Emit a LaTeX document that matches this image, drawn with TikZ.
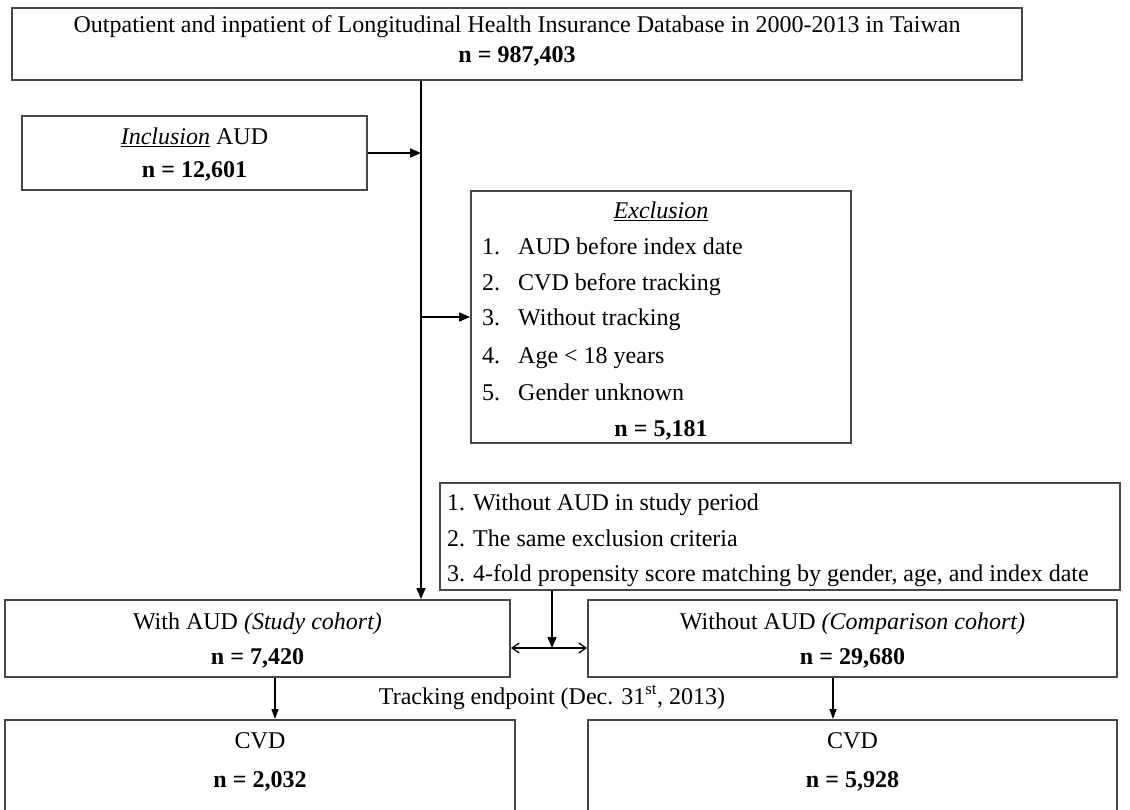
\documentclass[tikz,border=0pt]{standalone}
\usepackage{fontspec}
\setmainfont{Liberation Serif}
\usetikzlibrary{arrows.meta}
\begin{document}
\begin{tikzpicture}[x=1pt,y=-1pt,
  box/.style={draw=black!72, line width=2pt, inner sep=0pt, minimum width=#1},
  txt/.style={inner sep=0pt, anchor=base, font=\fontsize{24}{28}\selectfont},
  ltxt/.style={inner sep=0pt, anchor=base west, font=\fontsize{24}{28}\selectfont},
  arr/.style={-{Triangle[length=11pt,width=9pt]}, line width=1.6pt},
  sarr/.style={-{Triangle[length=10pt,width=7pt]}, line width=1.3pt},
  darr/.style={{Straight Barb[length=7pt,width=10pt]}-{Straight Barb[length=7pt,width=10pt]}, line width=1.3pt},
]
\clip (0,0) rectangle (1130,810);
\fill[white] (0,0) rectangle (1130,810);

% boxes
\node[box=1010pt, minimum height=72pt] (top) at (517,44) {};
\node[box=345pt, minimum height=74pt] (incl) at (194.5,153) {};
\node[box=380pt, minimum height=252pt] (excl) at (661,317) {};
\node[box=680pt, minimum height=107pt] (match) at (780,536.5) {};
\node[box=505pt, minimum height=77pt] (with) at (257.5,638.5) {};
\node[box=529pt, minimum height=77pt] (without) at (852.5,638.5) {};
\node[box=510pt, minimum height=110pt] (cvda) at (260,775) {};
\node[box=529pt, minimum height=110pt] (cvdb) at (852.5,775) {};

% texts
\node[txt] (t1) at (517,33) {Outpatient and inpatient of Longitudinal Health Insurance Database in 2000-2013 in Taiwan};
\node[txt] (t2) at (517,63) {\textbf{n = 987,403}};
\node[txt] (i1) at (194.5,145) {\underline{\textit{Inclusion}} AUD};
\node[txt] (i2) at (194.5,178) {\textbf{n = 12,601}};
\node[txt] (e0) at (661,219) {\underline{\textit{Exclusion}}};
\node[ltxt] (e1) at (482,255) {\makebox[36pt][l]{1.}AUD before index date};
\node[ltxt] (e2) at (482,291) {\makebox[36pt][l]{2.}CVD before tracking};
\node[ltxt] (e3) at (482,326) {\makebox[36pt][l]{3.}Without tracking};
\node[ltxt] (e4) at (482,363) {\makebox[36pt][l]{4.}Age < 18 years};
\node[ltxt] (e5) at (482,400) {\makebox[36pt][l]{5.}Gender unknown};
\node[txt] (e6) at (661,436) {\textbf{n = 5,181}};
\node[ltxt] (m1) at (447,510) {1. Without AUD in study period};
\node[ltxt] (m2) at (447,546) {2. The same exclusion criteria};
\node[ltxt] (m3) at (447,581) {3. 4-fold propensity score matching by gender, age, and index date};
\node[txt] (w1) at (257.5,629) {With AUD \textit{(Study cohort)}};
\node[txt] (w2) at (257.5,664) {\textbf{n = 7,420}};
\node[txt] (o1) at (852.5,629) {Without AUD \textit{(Comparison cohort)}};
\node[txt] (o2) at (852.5,664) {\textbf{n = 29,680}};
\node[txt] (tr) at (552,704) {Tracking endpoint (Dec. 31\textsuperscript{st}, 2013)};
\node[txt] (c1) at (260,748) {CVD};
\node[txt] (c2) at (260,787) {\textbf{n = 2,032}};
\node[txt] (d1) at (852.5,748) {CVD};
\node[txt] (d2) at (852.5,787) {\textbf{n = 5,928}};

% connectors
\coordinate (j) at (421,0);
\coordinate (dbl) at (552,648);
\coordinate (a1) at (275,0);
\coordinate (a2) at (833,0);
\draw[arr] (top.south -| j) -- (with.north -| j);
\draw[arr] (incl.east) -- (incl.east -| j);
\draw[arr] (excl.west -| j) -- (excl.west);
\draw[darr] (with.east |- dbl) -- (without.west |- dbl);
\draw[arr] (match.south -| dbl) -- (dbl);
\draw[sarr] (with.south -| a1) -- (cvda.north -| a1);
\draw[sarr] (without.south -| a2) -- (cvdb.north -| a2);
\end{tikzpicture}
\end{document}
